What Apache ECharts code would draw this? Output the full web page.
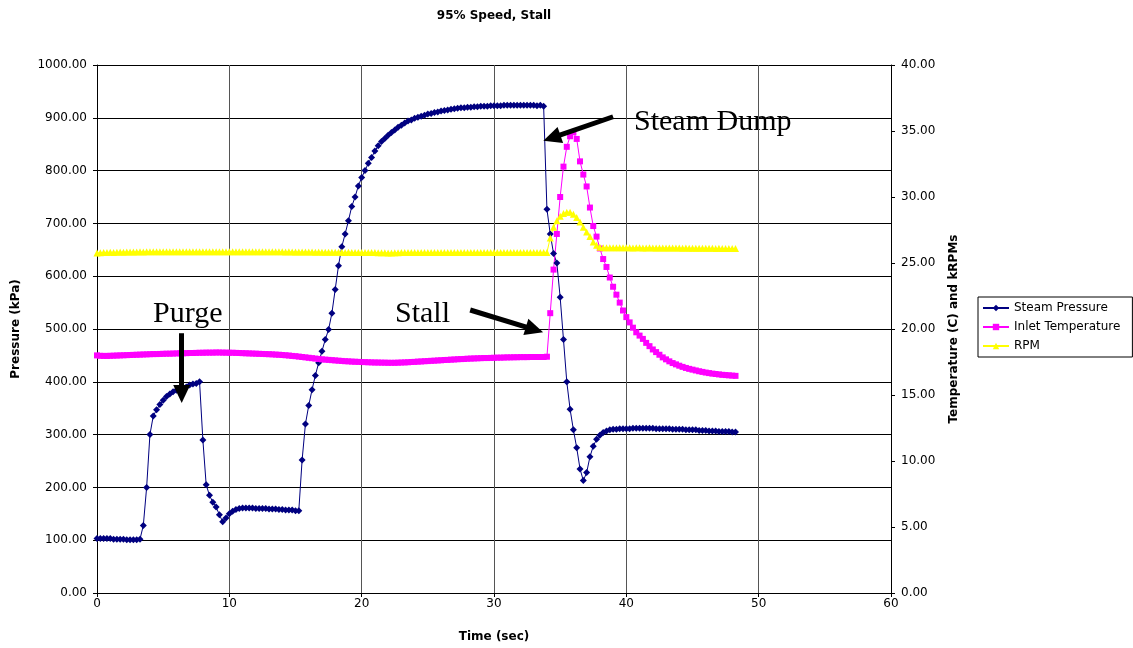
<!DOCTYPE html>
<html>
<head>
<meta charset="utf-8">
<title>95% Speed, Stall</title>
<script src="https://cdn.jsdelivr.net/npm/echarts@6/dist/echarts.min.js"></script>
<style>
  html, body { margin: 0; padding: 0; background: #fff; }
  #chart { width: 1133px; height: 648px; }
</style>
</head>
<body>
<div id="chart"></div>
<script>
// samples are logged every 0.25 s, starting at t = 0
const STEP = 0.25;

// Steam Pressure (kPa), left axis
const steamPressure = [
  103, 103, 103, 103, 103, 102, 102, 102, 102, 101,
  101, 101, 101, 102, 128, 200, 300, 335, 347, 357,
  365, 372, 377, 381, 384, 386, 388, 390, 394, 396,
  397, 400, 290, 205, 185, 172, 163, 148, 135, 142,
  150, 155, 158, 160, 161, 161, 161, 161, 160, 160,
  160, 160, 159, 159, 159, 158, 158, 157, 157, 157,
  156, 156, 252, 320, 355, 385, 412, 436, 458, 480,
  499, 530, 575, 620, 656, 680, 705, 732, 750, 771,
  787, 800, 814, 825, 837, 847, 855, 861, 867, 872,
  877, 882, 886, 890, 894, 896, 899, 901, 903, 905,
  907, 908, 910, 911, 913, 914, 915, 916, 917, 918,
  919, 919, 920, 920, 921, 921, 922, 922, 922, 923,
  923, 923, 923, 924, 924, 924, 924, 924, 924, 924,
  924, 924, 924, 923, 924, 922, 727, 680, 643, 625,
  560, 480, 400, 348, 309, 275, 235, 213, 228, 258,
  278, 291, 299, 304, 307, 309, 310, 310, 311, 311,
  311, 311, 312, 312, 312, 312, 312, 312, 312, 311,
  311, 311, 311, 311, 310, 310, 310, 310, 309, 309,
  309, 309, 308, 308, 308, 307, 307, 307, 306, 306,
  306, 306, 305, 305
];

// Inlet Temperature (C), right axis
const inletTemp = [
  18.0, 17.97, 17.96, 17.96, 17.97, 17.98, 17.99, 18.0, 18.01, 18.02,
  18.03, 18.04, 18.05, 18.06, 18.07, 18.08, 18.09, 18.1, 18.1, 18.11,
  18.12, 18.13, 18.13, 18.14, 18.15, 18.16, 18.16, 18.17, 18.18, 18.18,
  18.19, 18.2, 18.2, 18.21, 18.21, 18.21, 18.22, 18.22, 18.21, 18.21,
  18.2, 18.2, 18.19, 18.18, 18.17, 18.16, 18.15, 18.14, 18.13, 18.12,
  18.11, 18.1, 18.09, 18.08, 18.06, 18.05, 18.03, 18.01, 17.99, 17.96,
  17.94, 17.91, 17.88, 17.85, 17.82, 17.79, 17.76, 17.73, 17.7, 17.68,
  17.66, 17.64, 17.62, 17.6, 17.58, 17.56, 17.55, 17.53, 17.52, 17.51,
  17.5, 17.49, 17.48, 17.47, 17.46, 17.46, 17.45, 17.45, 17.44, 17.44,
  17.44, 17.45, 17.46, 17.47, 17.48, 17.5, 17.51, 17.53, 17.54, 17.56,
  17.57, 17.59, 17.6, 17.62, 17.63, 17.65, 17.66, 17.68, 17.69, 17.71,
  17.72, 17.73, 17.75, 17.76, 17.77, 17.78, 17.79, 17.8, 17.8, 17.81,
  17.82, 17.83, 17.83, 17.84, 17.85, 17.85, 17.86, 17.86, 17.87, 17.87,
  17.87, 17.88, 17.88, 17.88, 17.88, 17.88, 17.9, 21.2, 24.5, 27.2,
  30.0, 32.3, 33.8, 34.6, 34.9, 34.4, 32.7, 31.7, 30.8, 29.2,
  27.8, 27.0, 26.1, 25.3, 24.7, 23.9, 23.2, 22.6, 22.0, 21.4,
  20.9, 20.5, 20.1, 19.75, 19.5, 19.25, 18.95, 18.7, 18.45, 18.25,
  18.05, 17.85, 17.7, 17.55, 17.42, 17.32, 17.22, 17.13, 17.05, 16.98,
  16.92, 16.86, 16.8, 16.75, 16.7, 16.66, 16.62, 16.59, 16.56, 16.53,
  16.51, 16.49, 16.47, 16.45
];

// RPM (kRPM), right axis
const rpm = [
  25.75, 25.78, 25.8, 25.8, 25.82, 25.8, 25.82, 25.83, 25.82, 25.83,
  25.84, 25.83, 25.84, 25.85, 25.84, 25.85, 25.85, 25.86, 25.85, 25.86,
  25.86, 25.85, 25.86, 25.86, 25.85, 25.86, 25.86, 25.85, 25.86, 25.85,
  25.86, 25.85, 25.86, 25.86, 25.85, 25.86, 25.85, 25.86, 25.86, 25.85,
  25.86, 25.86, 25.85, 25.86, 25.86, 25.85, 25.86, 25.85, 25.86, 25.85,
  25.85, 25.86, 25.85, 25.85, 25.86, 25.85, 25.85, 25.84, 25.85, 25.84,
  25.84, 25.84, 25.83, 25.84, 25.83, 25.83, 25.82, 25.83, 25.82, 25.82,
  25.82, 25.81, 25.82, 25.81, 25.81, 25.8, 25.81, 25.8, 25.8, 25.8,
  25.8, 25.79, 25.8, 25.79, 25.79, 25.78, 25.78, 25.77, 25.76, 25.76,
  25.77, 25.78, 25.79, 25.79, 25.8, 25.8, 25.8, 25.79, 25.8, 25.8,
  25.8, 25.79, 25.8, 25.8, 25.79, 25.8, 25.8, 25.8, 25.79, 25.8,
  25.8, 25.8, 25.79, 25.8, 25.8, 25.8, 25.79, 25.8, 25.8, 25.8,
  25.8, 25.79, 25.8, 25.8, 25.8, 25.79, 25.8, 25.8, 25.8, 25.8,
  25.79, 25.8, 25.8, 25.8, 25.79, 25.8, 25.8, 26.9, 27.7, 28.2,
  28.55, 28.75, 28.85, 28.85, 28.7, 28.45, 28.1, 27.7, 27.35, 27.0,
  26.6, 26.35, 26.2, 26.15, 26.15, 26.15, 26.16, 26.15, 26.15, 26.15,
  26.15, 26.15, 26.14, 26.15, 26.15, 26.14, 26.14, 26.15, 26.14, 26.14,
  26.13, 26.14, 26.14, 26.13, 26.14, 26.13, 26.13, 26.12, 26.13, 26.12,
  26.12, 26.12, 26.12, 26.11, 26.12, 26.11, 26.11, 26.1, 26.11, 26.1,
  26.1, 26.1, 26.1, 26.1
];

// annotation arrows, [time, kPa] from tail -> arrowhead centre
const arrowPurge = [[6.4, 492], [6.4, 377]];
const arrowStall = [[28.2, 536], [33.06, 499]];
const arrowDump = [[39.0, 902], [34.37, 862]];

const FONT = 'DejaVu Sans';

const toPairs = (arr) => arr.map((v, i) => [i * STEP, v]);

const arrowLine = (pts) => [{ coord: pts[0] }, { coord: pts[1] }];

const chart = echarts.init(document.getElementById('chart'));

const option = {
  animation: false,
  backgroundColor: '#fff',
  textStyle: { fontFamily: FONT },
  title: {
    text: '95% Speed, Stall',
    left: 494,
    textAlign: 'center',
    top: 10,
    padding: 0,
    textStyle: { fontFamily: FONT, fontSize: 12, fontWeight: 'bold', color: '#000' }
  },
  legend: {
    orient: 'vertical',
    left: 978,
    top: 297,
    padding: [5, 12, 5, 4],
    itemGap: 7,
    itemWidth: 26,
    itemHeight: 8,
    borderColor: '#000',
    borderWidth: 1,
    textStyle: { fontFamily: FONT, fontSize: 12, color: '#000' },
    data: ['Steam Pressure', 'Inlet Temperature', 'RPM']
  },
  grid: { left: 97, right: 242, top: 65, bottom: 55 },
  xAxis: {
    type: 'value',
    min: 0,
    max: 60,
    interval: 10,
    name: 'Time (sec)',
    nameLocation: 'middle',
    nameGap: 38,
    nameTextStyle: { fontFamily: FONT, fontSize: 12, fontWeight: 'bold', color: '#000' },
    axisLine: { show: true, lineStyle: { color: '#000' } },
    axisTick: { show: true, length: 4, lineStyle: { color: '#000' } },
    axisLabel: { fontFamily: FONT, fontSize: 12, color: '#000', margin: 5 },
    splitLine: { show: true, lineStyle: { color: '#555', width: 1 } }
  },
  yAxis: [
    {
      type: 'value',
      min: 0,
      max: 1000,
      interval: 100,
      name: 'Pressure (kPa)',
      nameLocation: 'middle',
      nameGap: 75,
      nameRotate: 90,
      nameTextStyle: { fontFamily: FONT, fontSize: 12, fontWeight: 'bold', color: '#000' },
      axisLine: { show: true, lineStyle: { color: '#000' } },
      axisTick: { show: true, length: 4, lineStyle: { color: '#000' } },
      axisLabel: { fontFamily: FONT, fontSize: 12, color: '#000', margin: 10, formatter: (v) => v.toFixed(2) },
      splitLine: { show: true, lineStyle: { color: '#000', width: 1 } }
    },
    {
      type: 'value',
      min: 0,
      max: 40,
      interval: 5,
      position: 'right',
      name: 'Temperature (C) and kRPMs',
      nameLocation: 'middle',
      nameGap: 57,
      nameRotate: 90,
      nameTextStyle: { fontFamily: FONT, fontSize: 12, fontWeight: 'bold', color: '#000' },
      axisLine: { show: true, lineStyle: { color: '#000' } },
      axisTick: { show: true, length: 4, lineStyle: { color: '#000' } },
      axisLabel: { fontFamily: FONT, fontSize: 12, color: '#000', margin: 10, formatter: (v) => v.toFixed(2) },
      splitLine: { show: false }
    }
  ],
  series: [
    {
      name: 'Steam Pressure',
      type: 'line',
      yAxisIndex: 0,
      data: toPairs(steamPressure),
      symbol: 'diamond',
      symbolSize: 7,
      color: '#000080',
      lineStyle: { color: '#000080', width: 1 },
      itemStyle: { color: '#000080' },
      markLine: {
        silent: true,
        symbol: ['none', 'triangle'],
        symbolSize: [17, 18],
        label: { show: false },
        lineStyle: { color: '#000', width: 5, type: 'solid' },
        emphasis: { disabled: true },
        data: [arrowLine(arrowPurge), arrowLine(arrowStall), arrowLine(arrowDump)]
      }
    },
    {
      name: 'Inlet Temperature',
      type: 'line',
      yAxisIndex: 1,
      data: toPairs(inletTemp),
      symbol: 'rect',
      symbolSize: 6,
      color: '#ff00ff',
      lineStyle: { color: '#ff00ff', width: 1 },
      itemStyle: { color: '#ff00ff' }
    },
    {
      name: 'RPM',
      type: 'line',
      yAxisIndex: 1,
      data: toPairs(rpm),
      symbol: 'triangle',
      symbolSize: 7,
      color: '#ffff00',
      lineStyle: { color: '#ffff00', width: 1 },
      itemStyle: { color: '#ffff00' }
    }
  ],
  graphic: [
    { type: 'text', left: 153, top: 299, style: { text: 'Purge', font: '30px "Liberation Serif"', fill: '#000' } },
    { type: 'text', left: 395, top: 299, style: { text: 'Stall', font: '30px "Liberation Serif"', fill: '#000' } },
    { type: 'text', left: 634, top: 107, style: { text: 'Steam Dump', font: '30px "Liberation Serif"', fill: '#000' } }
  ]
};

chart.setOption(option);
window.addEventListener('resize', () => {
  chart.resize();
});
</script>
</body>
</html>
